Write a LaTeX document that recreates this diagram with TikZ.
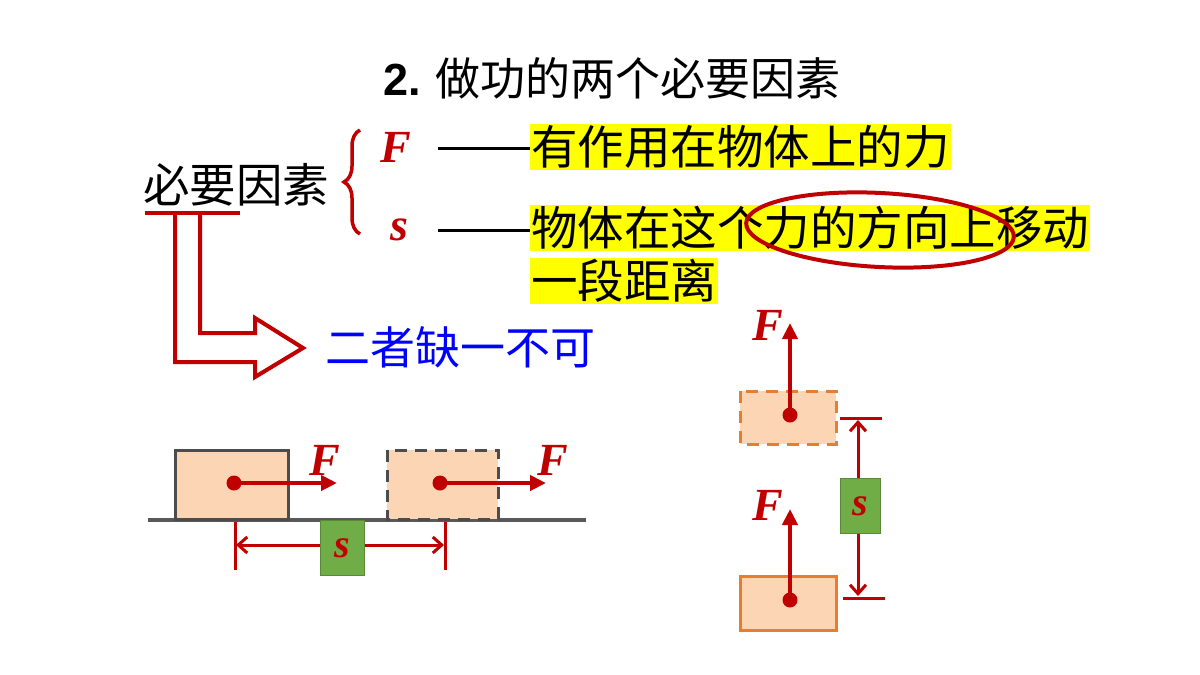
\documentclass[tikz,border=0pt]{standalone}
\usepackage{fontspec}
\setmainfont{Liberation Serif}
\newfontfamily\cjk{Noto Sans CJK SC}
\newfontfamily\lsans{Liberation Sans}
\usetikzlibrary{arrows.meta,decorations.pathreplacing}
\definecolor{dred}{HTML}{C00000}
\definecolor{peach}{HTML}{FCD5B5}
\definecolor{orng}{HTML}{E87D2F}
\definecolor{grn}{HTML}{70AD47}
\definecolor{ylw}{HTML}{FFFF00}
\definecolor{blu}{HTML}{0000FF}
\begin{document}
\begin{tikzpicture}[x=1pt,y=-1pt,
  cn/.style={font=\cjk\fontsize{46.5}{46.5}\selectfont,inner sep=0pt,anchor=west},
  hl/.style={cn,fill=ylw,inner sep=1pt},
  sym/.style={font=\fontsize{46}{46}\selectfont\bfseries\itshape,text=dred,inner sep=0pt},
  frc/.style={dred,line width=4pt,-{Triangle[length=16pt,width=15pt]}},
  dot/.style={circle,fill=dred,minimum size=15pt,inner sep=0pt},
  dim/.style={dred,line width=3pt},
  sbox/.style={fill=grn,draw=grn!80!black,minimum width=44pt,minimum height=55pt,inner sep=0pt,font=\fontsize{40}{40}\selectfont\bfseries\itshape,text=dred}]
\useasboundingbox (0,0) rectangle (1200,675);
\node (title) at (612,78) {\fontsize{45}{45}\selectfont{\lsans\bfseries 2.} {\cjk 做功的两个必要因素}};
\node[cn] (bys) at (143,185) {必要因素};
\draw[dred,line width=4pt] (145,213) -- (240,213);
\draw[dred,line width=3.5pt,decorate,decoration={brace,amplitude=16pt,mirror}] (360,130) -- (360,234);
\node[sym] (F) at (396,147) {F};
\node[sym] (s) at (399,230) {s};
\draw[line width=3pt] (438,148) -- (532,148);
\draw[line width=3pt] (438,230) -- (532,230);
\node[hl] (t1) at (530,147) {有作用在物体上的力};
\node[hl] (t2) at (530,228) {物体在这个力的方向上移动};
\node[hl] (t3) at (530,281) {一段距离};
\draw[dred,line width=4pt,rotate around={-3:(880,230)}] (880,230) ellipse (134pt and 37pt);
\draw[dred,line width=4pt] (175,214) -- (175,362) -- (255,362) -- (255,377) -- (303,348) -- (255,318) -- (255,333) -- (200,333) -- (200,214);
\node[cn,text=blu,font=\cjk\fontsize{45}{45}\selectfont] (bq) at (325,347) {二者缺一不可};
% horizontal scene
\draw[gray!70!black,line width=4pt] (148,520) -- (586,520);
\draw[draw=gray!60!black,line width=3pt,fill=peach] (175,450) rectangle (288,519);
\draw[draw=gray!60!black,line width=3pt,fill=peach,dash pattern=on 12pt off 8pt] (387,450) rectangle (498,519);
\node[dot] (d1) at (234,483) {};
\node[dot] (d2) at (440,483) {};
\coordinate (e1) at (337,483); \coordinate (e2) at (546,483);
\draw[frc] (d1.center) -- (e1);
\draw[frc] (d2.center) -- (e2);
\node[sym] (F1) at (325,460) {F};
\node[sym] (F2) at (553,460) {F};
\draw[dim] (235,522) -- (235,570);
\draw[dim] (445,522) -- (445,570);
\coordinate (a1) at (236,545); \coordinate (a2) at (444,545);
\draw[dim,{Straight Barb[length=9pt,width=16pt]}-{Straight Barb[length=9pt,width=16pt]}] (a1) -- (a2);
\node[sbox] (sb1) at (342,548) {s};
% vertical scene
\draw[draw=orng,line width=3pt,fill=peach,dash pattern=on 12pt off 8pt] (740,391) rectangle (836,444);
\draw[draw=orng,line width=3pt,fill=peach] (740,576) rectangle (836,630);
\node[dot] (d3) at (790,415) {};
\node[dot] (d4) at (790,600) {};
\coordinate (e3) at (790,323); \coordinate (e4) at (790,509);
\draw[frc] (d3.center) -- (e3);
\draw[frc] (d4.center) -- (e4);
\node[sym] (F3) at (768,325) {F};
\node[sym] (F4) at (768,505) {F};
\draw[dim] (840,418) -- (882,418);
\draw[dim] (843,598) -- (885,598);
\coordinate (b1) at (858,420); \coordinate (b2) at (858,596);
\draw[dim,{Straight Barb[length=9pt,width=16pt]}-{Straight Barb[length=9pt,width=16pt]}] (b1) -- (b2);
\node[sbox,minimum width=40pt] (sb2) at (860,506) {s};
\end{tikzpicture}
\end{document}
